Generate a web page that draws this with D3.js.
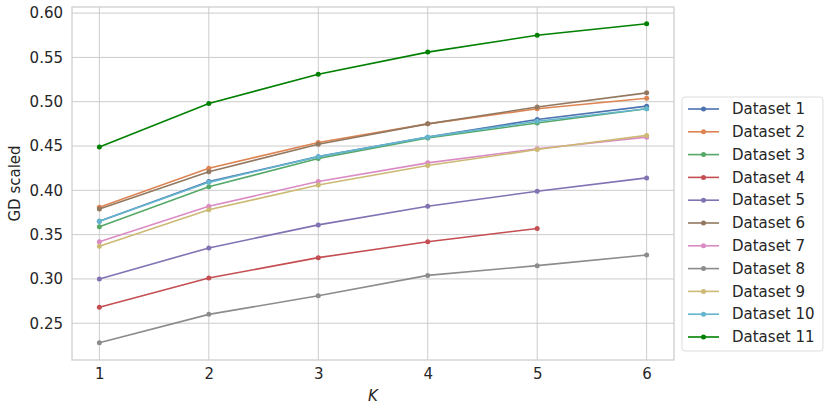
<!DOCTYPE html>
<html>
<head>
<meta charset="utf-8">
<script src="https://cdn.jsdelivr.net/npm/d3@7"></script>
<style>
  html, body { margin: 0; padding: 0; background: #fff; }
  svg { display: block; font-family: "DejaVu Sans", sans-serif; }
</style>
</head>
<body>
<svg id="chart" width="831" height="412"></svg>
<script>
const kValues = [1, 2, 3, 4, 5, 6];
const seriesNames = ["Dataset 1","Dataset 2","Dataset 3","Dataset 4","Dataset 5","Dataset 6","Dataset 7","Dataset 8","Dataset 9","Dataset 10","Dataset 11"];
const dataset1  = [0.365, 0.410, 0.438, 0.460, 0.480, 0.495];
const dataset2  = [0.381, 0.425, 0.454, 0.475, 0.492, 0.504];
const dataset3  = [0.359, 0.404, 0.436, 0.459, 0.476, 0.492];
const dataset4  = [0.268, 0.301, 0.324, 0.342, 0.357, null];
const dataset5  = [0.300, 0.335, 0.361, 0.382, 0.399, 0.414];
const dataset6  = [0.379, 0.421, 0.452, 0.475, 0.494, 0.510];
const dataset7  = [0.342, 0.382, 0.410, 0.431, 0.447, 0.460];
const dataset8  = [0.228, 0.260, 0.281, 0.304, 0.315, 0.327];
const dataset9  = [0.337, 0.378, 0.406, 0.428, 0.446, 0.462];
const dataset10 = [0.365, 0.409, 0.438, 0.460, 0.478, 0.492];
const dataset11 = [0.449, 0.498, 0.531, 0.556, 0.575, 0.588];
const yTicks = [0.25, 0.30, 0.35, 0.40, 0.45, 0.50, 0.55, 0.60];
const colors = ["#4C72B0","#DD8452","#55A868","#C44E52","#8172B3","#937860","#DA8BC3","#8C8C8C","#CCB974","#64B5CD","#008000"];

const allSeries = [dataset1,dataset2,dataset3,dataset4,dataset5,dataset6,dataset7,dataset8,dataset9,dataset10,dataset11];

const svg = d3.select("#chart");
const L = 72, R = 674, T = 7, B = 360;
const x = d3.scaleLinear().domain([0.75, 6.25]).range([L, R]);
const y = d3.scaleLinear().domain([0.2085, 0.6069]).range([B, T]);

const textColor = "#262626";
const gridColor = "#cccccc";

// gridlines
const g = svg.append("g");
g.selectAll(".vg").data(kValues).join("line")
  .attr("x1", d => x(d)).attr("x2", d => x(d))
  .attr("y1", T).attr("y2", B)
  .attr("stroke", gridColor).attr("stroke-width", 1);
g.selectAll(".hg").data(yTicks).join("line")
  .attr("x1", L).attr("x2", R)
  .attr("y1", d => y(d)).attr("y2", d => y(d))
  .attr("stroke", gridColor).attr("stroke-width", 1);

// frame
svg.append("rect").attr("x", L).attr("y", T).attr("width", R - L).attr("height", B - T)
  .attr("fill", "none").attr("stroke", gridColor).attr("stroke-width", 1.25);

// axes via d3
const xAxis = d3.axisBottom(x).tickValues(kValues).tickFormat(d3.format("d")).tickSize(0).tickPadding(8);
const yAxis = d3.axisLeft(y).tickValues(yTicks).tickFormat(d3.format(".2f")).tickSize(0).tickPadding(9);
const gx = svg.append("g").attr("transform", `translate(0,${B})`).call(xAxis);
const gy = svg.append("g").attr("transform", `translate(${L},0)`).call(yAxis);
[gx, gy].forEach(a => {
  a.select(".domain").remove();
  a.selectAll("text").attr("font-family", "DejaVu Sans").attr("font-size", 15).attr("fill", textColor);
});

// axis labels
svg.append("text").attr("x", x(3.5)).attr("y", 401).attr("text-anchor", "middle")
  .attr("font-size", 15).attr("font-style", "italic").attr("fill", textColor).text("K");
svg.append("text").attr("transform", `translate(20,${(T + B) / 2}) rotate(-90)`)
  .attr("text-anchor", "middle").attr("font-size", 15).attr("fill", textColor).text("GD scaled");

// lines
const line = d3.line().defined(d => d.v !== null).x(d => x(d.k)).y(d => y(d.v));
allSeries.forEach((vals, i) => {
  const pts = kValues.map((k, j) => ({ k, v: vals[j] }));
  const sg = svg.append("g");
  sg.append("path").datum(pts).attr("d", line)
    .attr("fill", "none").attr("stroke", colors[i]).attr("stroke-width", 1.6);
  sg.selectAll("circle").data(pts.filter(p => p.v !== null)).join("circle")
    .attr("cx", d => x(d.k)).attr("cy", d => y(d.v)).attr("r", 2.5).attr("fill", colors[i]);
});

// legend
const lg = svg.append("g");
lg.append("rect").attr("x", 682).attr("y", 97).attr("width", 141).attr("height", 254)
  .attr("rx", 3).attr("fill", "#fff").attr("fill-opacity", 0.8).attr("stroke", "#dddddd").attr("stroke-width", 1);
seriesNames.forEach((name, i) => {
  const cy = 109 + i * 22.8;
  lg.append("line").attr("x1", 688).attr("x2", 719).attr("y1", cy).attr("y2", cy)
    .attr("stroke", colors[i]).attr("stroke-width", 1.6);
  lg.append("circle").attr("cx", 703.5).attr("cy", cy).attr("r", 2.5).attr("fill", colors[i]);
  lg.append("text").attr("x", 732).attr("y", cy).attr("dy", "0.35em")
    .attr("font-size", 15).attr("fill", textColor).text(name);
});
</script>
</body>
</html>
